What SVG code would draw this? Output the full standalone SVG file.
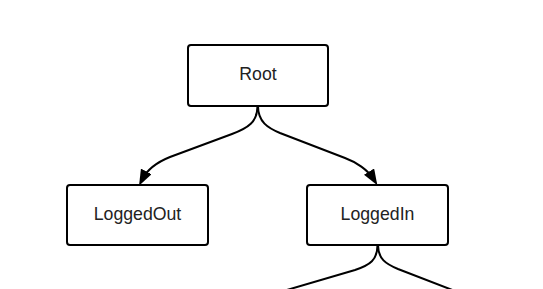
<svg xmlns="http://www.w3.org/2000/svg" width="543" height="289" viewBox="0 0 543 289">
<style>
.box{fill:#fff;stroke:#000;stroke-width:2}
.lbl{font-family:"Liberation Sans",Arial,sans-serif;font-size:17.7px;fill:#222;text-anchor:middle}
.edge{fill:none;stroke:#000;stroke-width:2}
</style>
<defs>
<marker id="arr" markerWidth="16" markerHeight="12" refX="9" refY="6" orient="auto" markerUnits="userSpaceOnUse" viewBox="0 0 16 12">
<path d="M0,0 L16,6 L0,12 Z" fill="#000"/>
</marker>
</defs>
<rect width="543" height="289" fill="#fff"/>
<g id="connectors">
<path class="edge" d="M257.5,106 C257.5,122 248,128 232,134 L170,157 C160,161 148,168 142.2,179.4" marker-end="url(#arr)"/>
<path class="edge" d="M258,106 C258,122 268,128 280,133 L345,158 C356,162 368,170 373.7,179.3" marker-end="url(#arr)"/>
<path class="edge" d="M377.5,245 C377.5,260 370,265 355,270 L280,292"/>
<path class="edge" d="M378,245 C378,259 386,264 398,269 L455,291"/>
</g>
<g id="root">
<rect class="box" x="188" y="45" width="140" height="61" rx="3"/>
<text class="lbl" x="258" y="80">Root</text>
</g>
<g id="loggedout">
<rect class="box" x="67" y="185" width="141" height="60" rx="3"/>
<text class="lbl" x="137.5" y="220">LoggedOut</text>
</g>
<g id="loggedin">
<rect class="box" x="307" y="185" width="141" height="60" rx="3"/>
<text class="lbl" x="377.5" y="220">LoggedIn</text>
</g>
</svg>
